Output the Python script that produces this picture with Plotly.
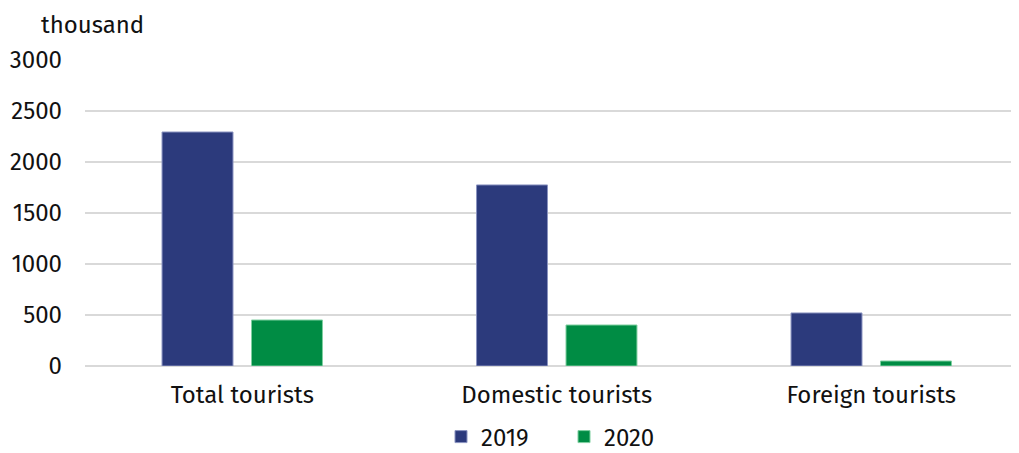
import plotly.graph_objects as go

categories = ["Total tourists", "Domestic tourists", "Foreign tourists"]
values_2019 = [2294, 1775, 520]
values_2020 = [451, 402, 49]
y_ticks = [0, 500, 1000, 1500, 2000, 2500, 3000]

font_family = "Fira Sans, Noto Sans, Open Sans, sans-serif"
FS = 24

W, H = 1011, 445  # page body has an 8px margin
L, R, T, B = 77, 0, 52, 87
plot_w = W - L - R
cat_px = 314.5  # pixel width of one category in the reference
x_max = -0.5 + plot_w / cat_px

fig = go.Figure()
fig.add_trace(go.Bar(name="2019", x=categories, y=values_2019,
                     marker=dict(color="#2C3A7C", line=dict(color="#8A93C0", width=1))))
fig.add_trace(go.Bar(name="2020", x=categories, y=values_2020,
                     marker=dict(color="#008C44", line=dict(color="#7FCFA0", width=1))))

fig.update_layout(
    width=W, height=H,
    margin=dict(l=L, r=R, t=T, b=B, autoexpand=False),
    paper_bgcolor="white", plot_bgcolor="white",
    font=dict(family=font_family, size=FS, color="#111111"),
    barmode="group", bargap=0.431, bargroupgap=0.207,
    legend=dict(orientation="h", xref="container", x=433 / W, xanchor="left",
                yref="container", y=1 - 429 / H, yanchor="middle",
                font=dict(size=FS), entrywidth=78, traceorder="normal"),
)
fig.add_annotation(text="thousand", xref="paper", yref="paper", x=-(85 - 39) / plot_w,
                   y=1 + 35 / 306, xanchor="left", yanchor="middle", showarrow=False,
                   font=dict(size=FS, color="#111111"))

fig.update_yaxes(range=[0, 3000], tickvals=y_ticks, showgrid=True, gridcolor="#D9D9D9",
                 gridwidth=2, zeroline=True, zerolinecolor="#D9D9D9", zerolinewidth=2,
                 showline=False, ticks="", ticklabelstandoff=22, automargin=False)
fig.update_xaxes(range=[-0.5, x_max], showline=False, ticks="", showgrid=False,
                 ticklabelstandoff=12, automargin=False)

fig.write_html("out.html")
